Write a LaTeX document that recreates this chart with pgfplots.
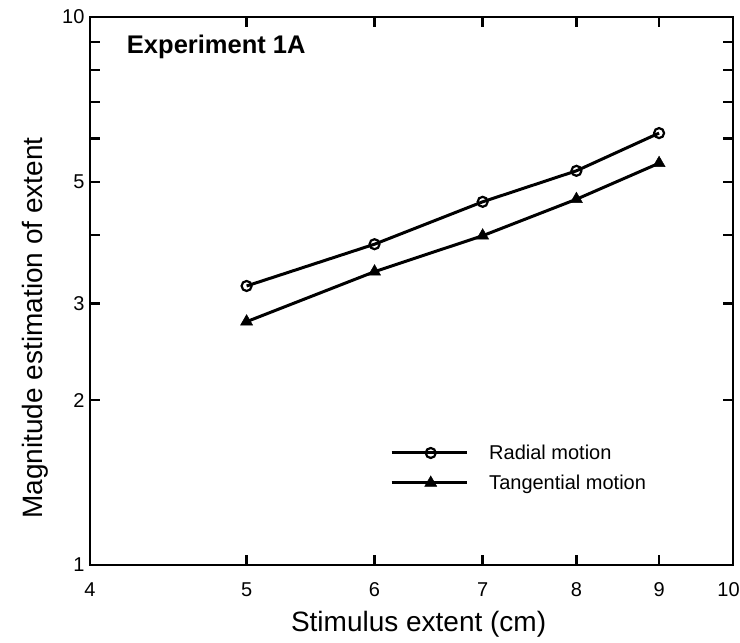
\documentclass[border=0pt]{standalone}
\usepackage{pgfplots}
\pgfplotsset{compat=1.18}
\usepackage{fontspec}
\setmainfont{Liberation Sans}
\begin{document}
\begin{tikzpicture}
\begin{loglogaxis}[
  scale only axis,
  width=643pt, height=548pt,
  xmin=4, xmax=10, ymin=1, ymax=10,
  axis line style={line width=2.6pt},
  xtick={4,5,6,7,8,9,10},
  xticklabels={4,5,6,7,8,9,\makebox[0pt]{10\hspace{9pt}}},
  ytick={1,2,3,4,5,6,7,8,9,10},
  yticklabels={1,2,3,,5,,,,,10},
  minor tick num=0,
  tick align=inside,
  xtick pos=both, ytick pos=both,
  major tick length=10pt,
  tick style={line width=2.4pt, black},
  every tick label/.append style={font=\fontsize{20}{24}\selectfont},
  /pgf/number format/assume math mode=true,
  xticklabel style={yshift=-14pt},
  yticklabel style={xshift=-2pt},
  xlabel={Stimulus extent (cm)},
  ylabel={Magnitude estimation of extent},
  label style={font=\fontsize{28}{32}\selectfont},
  xlabel style={at={(axis description cs:0.511,-0.1077)}, anchor=center},
  ylabel style={at={(axis description cs:-0.0855,0.4325)}, anchor=center},
  legend style={draw=none, fill=none, inner sep=0pt, at={(0.4666,0.223)}, anchor=north west,
    font=\fontsize{20}{24}\selectfont, row sep=10pt},
  legend cell align=left,
  legend image code/.code={\draw[mark repeat=2,mark phase=2,#1] plot coordinates {(0pt,0pt) (39pt,0pt) (75pt,0pt)};},
]
\addplot[black, line width=3pt, mark=o, mark size=5pt, mark options={line width=2.2pt, fill=white}]
  coordinates {(5,3.23) (6,3.85) (7,4.60) (8,5.24) (9,6.14)};
\addlegendentry{\hspace{19pt}Radial motion}
\addplot[black, line width=3pt, mark=triangle*, mark size=7pt, mark options={line width=0.5pt}]
  coordinates {(5,2.78) (6,3.43) (7,3.99) (8,4.65) (9,5.41)};
\addlegendentry{\hspace{19pt}Tangential motion}
\node[anchor=west, font=\fontsize{25.5}{28}\selectfont\bfseries] at (axis description cs:0.052,0.945) {Experiment 1A};
\end{loglogaxis}
\pgfresetboundingbox
\path[use as bounding box] ([shift={(-90pt,-77pt)}]current axis.south west) rectangle ([shift={(7pt,17pt)}]current axis.north east);
\end{tikzpicture}
\end{document}
